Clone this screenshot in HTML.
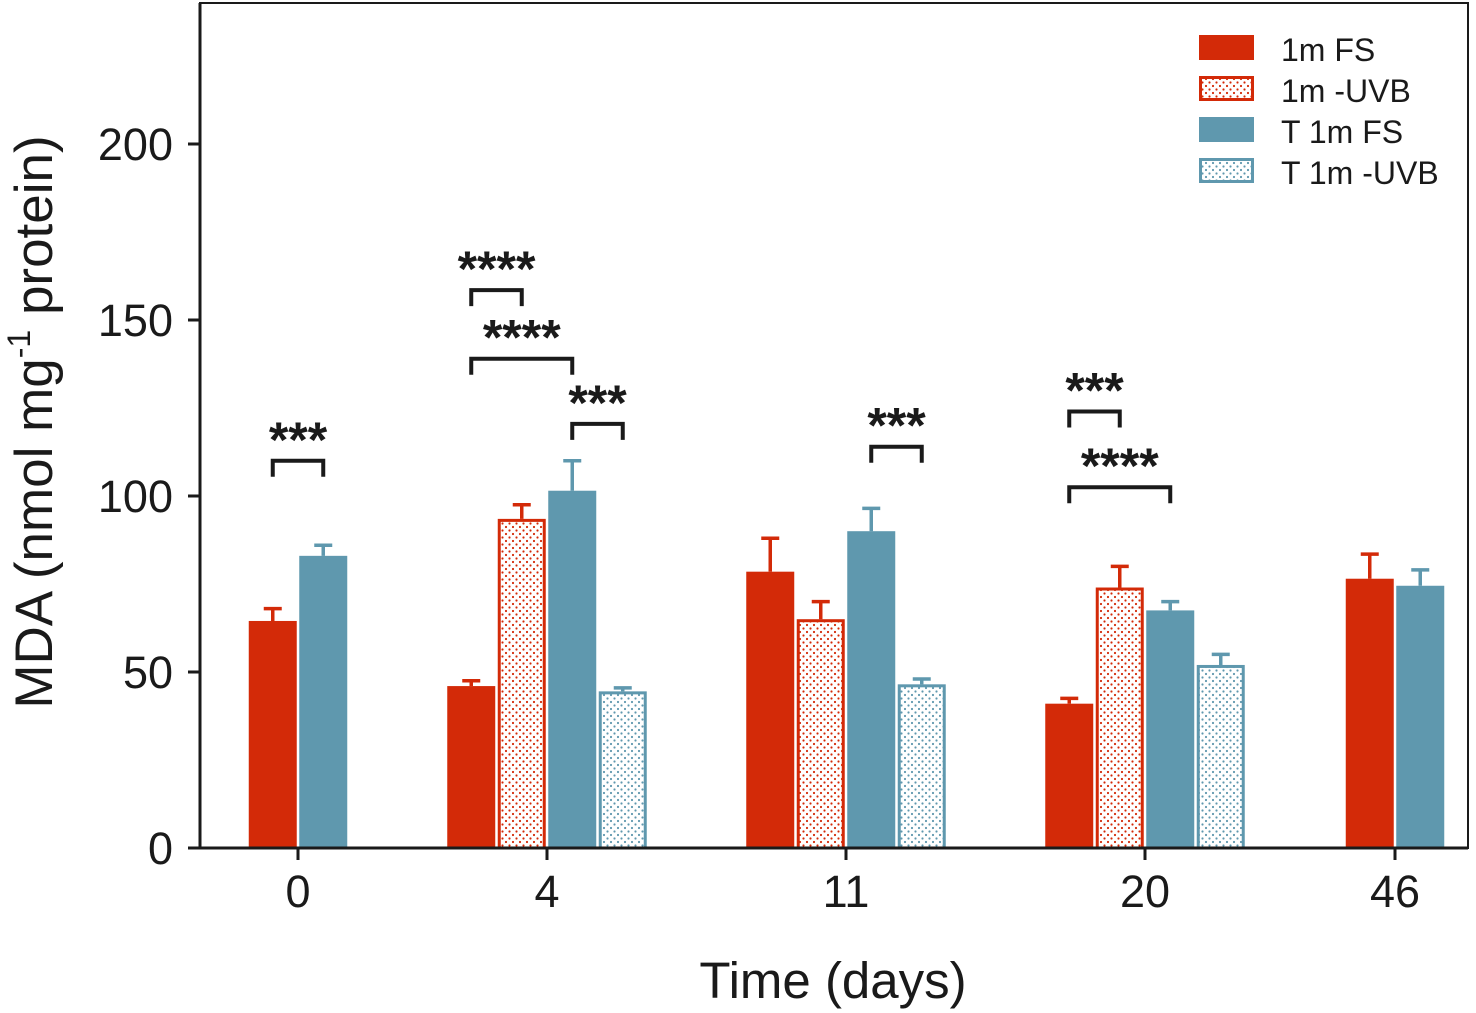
<!DOCTYPE html>
<html><head><meta charset="utf-8"><style>
html,body{margin:0;padding:0;background:#fff;}
svg{display:block;font-family:"Liberation Sans",Arial,sans-serif;}
</style></head><body>
<svg id="chart" width="1476" height="1013" viewBox="0 0 1476 1013">
<defs>
<pattern id="dotRed" width="7" height="7" patternUnits="userSpaceOnUse"><rect width="7" height="7" fill="#fff"/><circle cx="2" cy="2" r="1.1" fill="#d32a08"/><circle cx="5.5" cy="5.5" r="1.1" fill="#d32a08"/></pattern>
<pattern id="dotBlue" width="7" height="7" patternUnits="userSpaceOnUse"><rect width="7" height="7" fill="#fff"/><circle cx="2" cy="2" r="1.1" fill="#5f98ae"/><circle cx="5.5" cy="5.5" r="1.1" fill="#5f98ae"/></pattern>
</defs>
<g id="plot"></g>
</svg>
<script>
const categories = ["0","4","11","20","46"];
const seriesNames = ["1m FS","1m -UVB","T 1m FS","T 1m -UVB"];
// null = not present
const val1mFS   = [64.5, 46, 78.5, 41, 76.5];
const err1mFS   = [3.5, 1.5, 9.5, 1.5, 7];
const val1mUVB  = [null, 93.5, 65, 74, null];
const err1mUVB  = [null, 4, 5, 6, null];
const valT1mFS  = [83, 101.5, 90, 67.5, 74.5];
const errT1mFS  = [3, 8.5, 6.5, 2.5, 4.5];
const valT1mUVB = [null, 44.5, 46.5, 52, null];
const errT1mUVB = [null, 1, 1.5, 3, null];
const yTicks = [0,50,100,150,200];
// significance: [categoryIndex, seriesA, seriesB, level, label]
const sigGroup = [0,1,1,1,2,3,3];
const sigA     = [0,0,0,2,2,0,0];
const sigB     = [2,1,2,3,3,1,2];
const sigLevel = [110,158.5,139,120.5,114,124,102.5];
const sigLabel = ["***","****","****","***","***","***","****"];

const NS="http://www.w3.org/2000/svg";
const svg=document.getElementById('chart');
const g=document.getElementById('plot');
const X0=200,X1=1468,Y0=848,YT=3;
const y=v=>Y0-v*3.52;
const groupX=i=>[298,547,846,1145,1395][i];
const BW=48,STEP=50.5;
function el(t,a,p){const e=document.createElementNS(NS,t);for(const k in a)e.setAttribute(k,a[k]);(p||g).appendChild(e);return e;}
const colors=["#d32a08","#d32a08","#5f98ae","#5f98ae"];
const fills=["#d32a08","url(#dotRed)","#5f98ae","url(#dotBlue)"];
const vals=[val1mFS,val1mUVB,valT1mFS,valT1mUVB];
const errs=[err1mFS,err1mUVB,errT1mFS,errT1mUVB];
function barCenter(ci,si){
  const present=[0,1,2,3].filter(s=>vals[s][ci]!==null);
  const k=present.indexOf(si);const n=present.length;
  return groupX(ci)+(k-(n-1)/2)*STEP;
}
// frame
const frame=el('rect',{x:X0,y:YT,width:X1-X0,height:Y0-YT,fill:'none',stroke:'#1a1a1a','stroke-width':2});


// bars
categories.forEach((c,ci)=>{
  [0,1,2,3].forEach(si=>{
    const v=vals[si][ci];if(v===null)return;
    const cx=barCenter(ci,si);
    const e=errs[si][ci];
    const eb=el('path',{d:`M${cx} ${y(v)} V${y(v+e)} M${cx-9} ${y(v+e)} H${cx+9}`,stroke:colors[si],'stroke-width':3.5,fill:'none'});
    
    
    const dotted=(si%2===1);
    const r=el('rect',{x:cx-BW/2+(dotted?1.5:0),y:y(v)+(dotted?1.5:0),width:BW-(dotted?3:0),height:Y0-y(v)-(dotted?1.5:0),fill:fills[si],stroke:dotted?colors[si]:'none','stroke-width':3});
    
    
  });
});
// axes
el('line',{x1:X0,y1:Y0,x2:X1,y2:Y0,stroke:'#1a1a1a','stroke-width':3});
el('line',{x1:X0,y1:YT,x2:X0,y2:Y0,stroke:'#1a1a1a','stroke-width':3});
yTicks.forEach(t=>{
  el('line',{x1:X0-12,y1:y(t),x2:X0,y2:y(t),stroke:'#1a1a1a','stroke-width':3});
  const tx=el('text',{x:173,y:y(t)+16,'text-anchor':'end','font-size':45,fill:'#1a1a1a'});tx.textContent=t;
  
  
});
categories.forEach((c,ci)=>{
  el('line',{x1:groupX(ci),y1:Y0,x2:groupX(ci),y2:Y0+12,stroke:'#1a1a1a','stroke-width':3});
  const tx=el('text',{x:groupX(ci),y:907,'text-anchor':'middle','font-size':45,fill:'#1a1a1a'});tx.textContent=c;
  
  
});
const xt=el('text',{x:833,y:998,'text-anchor':'middle','font-size':51,fill:'#1a1a1a'});xt.textContent='Time (days)';


const yt=el('text',{transform:'translate(52,422) rotate(-90)','text-anchor':'middle','font-size':53,fill:'#1a1a1a'});
yt.innerHTML='MDA (nmol mg<tspan dy="-22" font-size="32">-1</tspan><tspan dy="22"> protein)</tspan>';


// significance
sigGroup.forEach((ci,i)=>{
  const xa=barCenter(ci,sigA[i]),xb=barCenter(ci,sigB[i]),yy=y(sigLevel[i]);
  const p=el('path',{d:`M${xa} ${yy+16} V${yy} H${xb} V${yy+16}`,stroke:'#1a1a1a','stroke-width':4,fill:'none'});
  
  
  const tx=el('text',{x:(xa+xb)/2,y:yy-4,'text-anchor':'middle','font-size':50,'font-weight':'bold',fill:'#1a1a1a'});tx.textContent=sigLabel[i];
  
  
});
// legend
seriesNames.forEach((n,i)=>{
  const yy=35+i*41;const dotted=i%2===1;
  const r=el('rect',{x:1199+(dotted?1.5:0),y:yy+(dotted?1.5:0),width:55-(dotted?3:0),height:25-(dotted?3:0),fill:fills[i],stroke:dotted?colors[i]:'none','stroke-width':3});
  
  
  const tx=el('text',{x:1281,y:yy+26,'font-size':32,fill:'#1a1a1a'});tx.textContent=n;
  
  
});
</script>
</body></html>
